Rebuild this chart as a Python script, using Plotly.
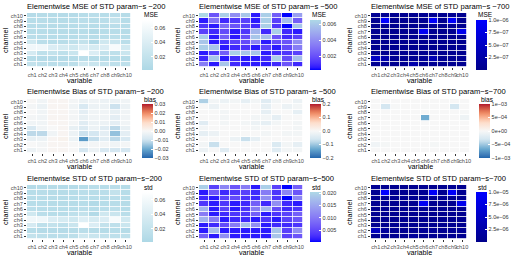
import numpy as np
import plotly.graph_objects as go

W, H = 516, 258
variables = [f"ch{i}" for i in range(1, 11)]
channels_bottom_up = [f"ch{i}" for i in range(1, 11)]
channels_top_down = channels_bottom_up[::-1]   # rows of the matrices below are listed top (ch10) -> bottom (ch1)

# ---------------- data (rows: ch10 ... ch1, columns: ch1 ... ch10) ----------------
mse_200 = [
    [0.008, 0.009, 0.009, 0.008, 0.008, 0.010, 0.012, 0.010, 0.012, 0.009],
    [0.010, 0.011, 0.009, 0.009, 0.010, 0.012, 0.011, 0.012, 0.020, 0.010],
    [0.010, 0.010, 0.009, 0.009, 0.010, 0.012, 0.010, 0.011, 0.012, 0.010],
    [0.010, 0.010, 0.009, 0.009, 0.009, 0.010, 0.006, 0.010, 0.011, 0.009],
    [0.012, 0.011, 0.010, 0.010, 0.010, 0.013, 0.010, 0.012, 0.014, 0.010],
    [0.030, 0.012, 0.010, 0.011, 0.016, 0.020, 0.006, 0.030, 0.025, 0.012],
    [0.058, 0.058, 0.040, 0.036, 0.030, 0.042, 0.036, 0.040, 0.064, 0.032],
    [0.035, 0.016, 0.020, 0.016, 0.025, 0.071, 0.040, 0.020, 0.016, 0.026],
    [0.010, 0.008, 0.008, 0.008, 0.009, 0.012, 0.009, 0.009, 0.010, 0.009],
    [0.020, 0.016, 0.012, 0.012, 0.014, 0.030, 0.025, 0.020, 0.016, 0.016],
]
mse_500 = [  # x 1e-3
    [6.5, 2.1, 6.2, 4.0, 5.9, 0.56, 6.2, 2.4, 0.25, 4.6],
    [0.56, 3.1, 0.88, 1.2, 1.5, 0.56, 6.2, 1.5, 5.6, 2.4],
    [1.2, 0.56, 2.8, 2.1, 1.5, 0.88, 6.2, 1.2, 0.25, 5.9],
    [1.5, 0.88, 1.8, 0.56, 1.2, 5.3, 0.88, 6.2, 0.88, 0.56],
    [6.2, 0.56, 2.4, 0.56, 1.8, 5.9, 5.6, 2.1, 0.88, 1.5],
    [5.9, 0.56, 0.88, 1.5, 1.8, 3.7, 0.56, 1.8, 2.1, 4.0],
    [6.2, 5.9, 0.56, 0.88, 1.2, 0.56, 1.5, 0.56, 1.8, 3.4],
    [0.56, 1.2, 2.4, 6.2, 5.9, 5.9, 0.56, 0.88, 1.2, 1.5],
    [0.88, 5.9, 0.56, 0.88, 0.56, 0.56, 0.88, 6.2, 1.8, 5.6],
    [3.4, 0.56, 5.9, 0.88, 0.56, 0.56, 0.56, 0.88, 2.1, 0.88],
]
mse_700 = [  # x 1e-7
    [0.8, 0.6, 0.5, 0.6, 0.5, 0.7, 0.6, 0.5, 0.8, 0.6],
    [0.6, 10.0, 0.7, 0.6, 0.5, 0.8, 9.5, 0.6, 9.5, 0.7],
    [0.5, 0.9, 0.6, 0.5, 0.6, 0.5, 0.8, 0.6, 0.7, 0.5],
    [0.6, 0.7, 0.5, 0.6, 0.6, 9.0, 0.7, 0.5, 0.6, 8.5],
    [0.5, 0.6, 0.5, 0.5, 0.7, 0.6, 0.5, 0.6, 0.5, 0.6],
    [0.6, 0.5, 0.6, 0.5, 0.6, 0.7, 0.6, 0.5, 0.6, 0.5],
    [0.5, 0.6, 0.5, 0.6, 0.5, 0.6, 0.5, 0.6, 0.5, 0.7],
    [0.6, 0.5, 0.6, 0.5, 0.6, 0.5, 0.6, 0.5, 0.6, 0.5],
    [5.0, 3.0, 0.8, 0.6, 0.7, 1.0, 3.5, 0.7, 0.8, 0.9],
    [0.7, 0.8, 0.6, 0.6, 3.0, 0.7, 0.8, 0.6, 0.7, 0.6],
]
bias_200 = [
    [0.0005, -0.002, 0.001, 0.001, -0.001, -0.003, -0.002, -0.003, -0.003, -0.002],
    [-0.001, -0.003, 0.001, 0.001, -0.002, -0.008, -0.003, -0.003, -0.010, -0.003],
    [0.000, -0.002, 0.001, 0.001, -0.001, -0.005, -0.002, -0.002, -0.004, -0.002],
    [-0.001, -0.002, 0.001, 0.001, -0.001, -0.004, -0.002, -0.002, -0.005, -0.002],
    [-0.002, -0.002, 0.001, 0.001, -0.001, -0.006, -0.003, -0.003, -0.005, -0.002],
    [-0.008, -0.002, 0.000, 0.001, -0.004, -0.007, -0.003, -0.006, -0.012, -0.004],
    [-0.012, -0.012, -0.002, 0.001, -0.003, -0.010, -0.009, -0.005, -0.016, -0.005],
    [-0.004, -0.003, 0.001, 0.002, -0.003, -0.022, -0.011, -0.006, -0.012, -0.008],
    [0.000, -0.001, 0.001, 0.001, 0.000, -0.002, -0.001, -0.001, -0.002, -0.001],
    [-0.003, -0.001, 0.001, 0.001, 0.000, -0.009, -0.003, -0.008, -0.009, -0.009],
]
bias_500 = [
    [-0.09, -0.01, -0.02, -0.01, -0.03, -0.01, -0.04, -0.01, 0.00, -0.02],
    [0.00, -0.02, 0.00, 0.00, 0.00, 0.00, -0.03, 0.00, -0.02, -0.01],
    [0.00, 0.00, -0.01, 0.00, 0.00, 0.00, -0.03, 0.00, 0.00, -0.03],
    [0.00, 0.00, -0.01, 0.00, 0.00, -0.01, -0.01, -0.03, 0.00, 0.00],
    [-0.04, 0.00, -0.01, 0.00, -0.01, -0.02, -0.03, -0.01, 0.00, -0.01],
    [-0.01, 0.00, 0.00, 0.00, 0.00, -0.01, 0.00, 0.00, 0.00, -0.01],
    [-0.03, -0.02, 0.00, 0.00, 0.00, 0.00, -0.01, 0.00, -0.01, -0.01],
    [0.00, 0.00, 0.00, -0.02, -0.07, -0.03, 0.00, 0.00, 0.00, 0.00],
    [-0.01, -0.07, 0.00, 0.00, 0.00, 0.00, 0.00, -0.05, -0.01, -0.03],
    [-0.02, 0.00, -0.04, 0.00, 0.00, 0.00, 0.00, -0.04, -0.01, -0.01],
]
bias_700 = [  # x 1e-4
    [0.0, 0.0, 0.0, 0.0, 0.0, 0.0, 0.0, 0.0, 0.0, 0.0],
    [0.0, -3.0, -0.1, 0.0, 0.0, -0.1, 0.0, 0.0, -3.0, 0.0],
    [0.0, 0.0, 0.0, 0.0, 0.0, 0.0, 0.0, 0.0, 0.0, -0.1],
    [0.0, 0.0, 0.0, 0.0, 0.0, -6.5, 0.0, 0.0, 0.0, -0.8],
    [0.0, 0.0, 0.0, 0.0, 0.0, 0.0, 0.0, 0.0, 0.0, 0.0],
    [0.0, 0.0, 0.0, 0.0, 0.0, 0.0, 0.0, 0.0, 0.0, 0.0],
    [0.0, 0.0, 0.0, 0.0, 0.0, 0.0, 0.0, 0.0, 0.0, 0.0],
    [0.0, 0.0, 0.0, 0.0, 0.0, 0.0, 0.0, 0.0, 0.0, 0.0],
    [-0.6, -0.3, 0.0, 0.0, 0.0, 0.0, -0.3, 0.0, 0.0, 0.0],
    [0.0, 0.0, 0.0, 0.0, 0.0, 0.0, 0.0, 0.0, 0.0, 0.0],
]
std_200 = [
    [0.008, 0.009, 0.009, 0.008, 0.008, 0.010, 0.012, 0.010, 0.012, 0.009],
    [0.010, 0.011, 0.009, 0.009, 0.010, 0.012, 0.011, 0.012, 0.020, 0.010],
    [0.010, 0.010, 0.009, 0.009, 0.010, 0.012, 0.010, 0.011, 0.012, 0.010],
    [0.010, 0.010, 0.009, 0.009, 0.009, 0.010, 0.006, 0.010, 0.011, 0.009],
    [0.012, 0.011, 0.010, 0.010, 0.010, 0.013, 0.010, 0.012, 0.014, 0.010],
    [0.030, 0.012, 0.010, 0.011, 0.016, 0.020, 0.006, 0.030, 0.025, 0.012],
    [0.058, 0.058, 0.040, 0.036, 0.030, 0.042, 0.036, 0.040, 0.064, 0.032],
    [0.035, 0.016, 0.020, 0.016, 0.025, 0.071, 0.040, 0.020, 0.016, 0.026],
    [0.010, 0.008, 0.008, 0.008, 0.009, 0.012, 0.009, 0.009, 0.010, 0.009],
    [0.020, 0.016, 0.012, 0.012, 0.014, 0.030, 0.025, 0.020, 0.016, 0.016],
]
std_500 = [  # x 1e-3
    [19.5, 4.3, 11.4, 6.3, 10.4, 1.2, 19.5, 4.3, 0.2, 7.3],
    [1.2, 6.3, 2.2, 3.2, 4.3, 2.2, 10.4, 3.2, 11.4, 6.3],
    [2.2, 1.2, 4.3, 5.3, 3.2, 2.2, 12.4, 3.2, 0.2, 11.4],
    [3.2, 1.2, 3.2, 1.2, 2.2, 7.3, 2.2, 12.4, 2.2, 1.2],
    [16.4, 1.2, 4.3, 1.2, 3.2, 10.4, 16.4, 5.3, 2.2, 3.2],
    [10.4, 1.2, 2.2, 3.2, 3.2, 7.3, 1.2, 3.2, 4.3, 7.3],
    [16.4, 10.4, 1.2, 2.2, 2.2, 1.2, 3.2, 1.2, 4.3, 6.3],
    [1.2, 2.2, 5.3, 10.4, 17.5, 12.4, 1.2, 2.2, 2.2, 3.2],
    [1.2, 17.5, 1.2, 1.2, 1.2, 1.2, 1.2, 18.5, 4.3, 12.4],
    [7.3, 1.2, 12.4, 1.2, 1.2, 1.2, 1.2, 18.5, 4.3, 6.3],
]
std_700 = [  # x 1e-6
    [0.8, 0.6, 0.5, 0.6, 0.5, 0.7, 0.6, 0.5, 0.8, 0.6],
    [0.6, 10.0, 0.7, 0.6, 0.5, 0.8, 9.5, 0.6, 9.5, 0.7],
    [0.5, 0.9, 0.6, 0.5, 0.6, 0.5, 0.8, 0.6, 0.7, 0.5],
    [0.6, 0.7, 0.5, 0.6, 0.6, 9.0, 0.7, 0.5, 0.6, 8.5],
    [0.5, 0.6, 0.5, 0.5, 0.7, 0.6, 0.5, 0.6, 0.5, 0.6],
    [0.6, 0.5, 0.6, 0.5, 0.6, 0.7, 0.6, 0.5, 0.6, 0.5],
    [0.5, 0.6, 0.5, 0.6, 0.5, 0.6, 0.5, 0.6, 0.5, 0.7],
    [0.6, 0.5, 0.6, 0.5, 0.6, 0.5, 0.6, 0.5, 0.6, 0.5],
    [4.5, 1.5, 0.8, 0.6, 0.7, 1.0, 1.2, 0.7, 0.8, 0.9],
    [0.7, 0.8, 0.6, 0.6, 1.5, 0.7, 0.8, 0.6, 0.7, 0.6],
]

titles = [
    "Elementwise MSE of STD param\u2212s \u2212200", "Elementwise MSE of STD param\u2212s \u2212500",
    "Elementwise MSE of STD param\u2212s \u2212700",
    "Elementwise Bias of STD param\u2212s \u2212200", "Elementwise Bias of STD param\u2212s \u2212500",
    "Elementwise Bias of STD param\u2212s\u2212700",
    "Elementwise STD of STD param\u2212s\u2212200", "Elementwise STD of STD param\u2212s\u2212500",
    "Elementwise STD of STD param\u2212s\u2212700",
]
legend_titles = ["MSE", "MSE", "MSE", "bias", "bias", "bias", "std", "std", "std"]

# ---------------- colour helpers (Lab interpolation like ggplot) ----------------
def hex2rgb(h):
    h = h.lstrip("#")
    return np.array([int(h[i:i + 2], 16) / 255 for i in (0, 2, 4)])

def rgb2lab(c):
    c = np.where(c > 0.04045, ((c + 0.055) / 1.055) ** 2.4, c / 12.92)
    M_ = np.array([[0.4124, 0.3576, 0.1805], [0.2126, 0.7152, 0.0722], [0.0193, 0.1192, 0.9505]])
    xyz = M_ @ c / np.array([0.95047, 1.0, 1.08883])
    f = np.where(xyz > 0.008856, np.cbrt(xyz), 7.787 * xyz + 16 / 116)
    return np.array([116 * f[1] - 16, 500 * (f[0] - f[1]), 200 * (f[1] - f[2])])

def lab2hex(lab):
    fy = (lab[0] + 16) / 116
    fx = fy + lab[1] / 500
    fz = fy - lab[2] / 200
    f = np.array([fx, fy, fz])
    xyz = np.where(f ** 3 > 0.008856, f ** 3, (f - 16 / 116) / 7.787) * np.array([0.95047, 1.0, 1.08883])
    Mi = np.array([[3.2406, -1.5372, -0.4986], [-0.9689, 1.8758, 0.0415], [0.0557, -0.2040, 1.0570]])
    c = Mi @ xyz
    c = np.where(c > 0.0031308, 1.055 * np.clip(c, 0, None) ** (1 / 2.4) - 0.055, 12.92 * c)
    c = np.clip(c, 0, 1)
    return "#%02x%02x%02x" % tuple(int(round(v * 255)) for v in c)

def lab_scale(colors, n=21):
    labs = [rgb2lab(hex2rgb(c)) for c in colors]
    k = len(labs) - 1
    out = []
    for i in range(n):
        t = i / (n - 1)
        seg = min(int(t * k), k - 1)
        u = t * k - seg
        out.append([t, lab2hex(labs[seg] * (1 - u) + labs[seg + 1] * u)])
    return out

cs_200 = lab_scale(["#ADD8E6", "#FFFFFF"])
cs_500 = lab_scale(["#0000FF", "#ADD8E6"])
cs_700 = lab_scale(["#00008B", "#0000FF"])
cs_bias = lab_scale(["#2166AC", "#67A9CF", "#D1E5F0", "#F7F7F7", "#FDDBC7", "#EF8A62", "#B2182B"])

M = "\u2212"
panels = [
    dict(z=mse_200, scale=1, cs=cs_200, lim=(0.002, 0.071), tv=[0.02, 0.04, 0.06], tt=["0.02", "0.04", "0.06"]),
    dict(z=mse_500, scale=1e-3, cs=cs_500, lim=(0.00025, 0.0065), tv=[0.002, 0.004, 0.006], tt=["0.002", "0.004", "0.006"]),
    dict(z=mse_700, scale=1e-7, cs=cs_700, lim=(0.0, 1.0e-6), tv=[2.5e-7, 5e-7, 7.5e-7, 1e-6],
         tt=[f"2.5e{M}07", f"5.0e{M}07", f"7.5e{M}07", f"1.0e{M}06"]),
    dict(z=bias_200, scale=1, cs=cs_bias, lim=(-0.03, 0.03), tv=[-0.03, -0.02, -0.01, 0, 0.01, 0.02, 0.03],
         tt=[f"{M}0.03", f"{M}0.02", f"{M}0.01", "0.00", "0.01", "0.02", "0.03"]),
    dict(z=bias_500, scale=1, cs=cs_bias, lim=(-0.2, 0.2), tv=[-0.2, -0.1, 0, 0.1, 0.2],
         tt=[f"{M}0.2", f"{M}0.1", "0.0", "0.1", "0.2"]),
    dict(z=bias_700, scale=1e-4, cs=cs_bias, lim=(-1e-3, 1e-3), tv=[-1e-3, -5e-4, 0, 5e-4, 1e-3],
         tt=[f"{M}1e{M}03", f"{M}5e{M}04", "0e+00", f"5e{M}04", f"1e{M}03"]),
    dict(z=std_200, scale=1, cs=cs_200, lim=(0.002, 0.071), tv=[0.02, 0.04, 0.06], tt=["0.02", "0.04", "0.06"]),
    dict(z=std_500, scale=1e-3, cs=cs_500, lim=(0.0002, 0.0205), tv=[0.005, 0.01, 0.015, 0.02],
         tt=["0.005", "0.010", "0.015", "0.020"]),
    dict(z=std_700, scale=1e-6, cs=cs_700, lim=(0.0, 1.0e-5), tv=[2.5e-6, 5e-6, 7.5e-6, 1e-5],
         tt=[f"2.5e{M}06", f"5.0e{M}06", f"7.5e{M}06", f"1.0e{M}05"]),
]

# ---------------- layout geometry (pixels) ----------------
heat_x = {0: (27, 131), 1: (199, 303), 2: (371, 467)}
bar_x = {0: 142, 1: 310, 2: 476}
FONT = "Liberation Sans"

fig = go.Figure()
layout = dict(
    width=W, height=H, margin=dict(l=0, r=0, t=0, b=0, autoexpand=False),
    paper_bgcolor="white", plot_bgcolor="white",
    font=dict(family=FONT, size=7, color="#000000"),
    annotations=[], showlegend=False,
)

for i, p in enumerate(panels):
    r, c = divmod(i, 3)
    n = i + 1
    x0, x1 = heat_x[c]
    if i == 5:
        x1 = 470
    y0, y1 = 13 + 86 * r, 67 + 86 * r
    xa = "x" if n == 1 else f"x{n}"
    ya = "y" if n == 1 else f"y{n}"
    ca = "coloraxis" if n == 1 else f"coloraxis{n}"
    z = (np.array(p["z"]) * p["scale"]).tolist()
    fig.add_trace(go.Heatmap(z=z, x=variables, y=channels_top_down, xaxis=xa, yaxis=ya,
                             coloraxis=ca, xgap=0.8, ygap=0.8,
                             hovertemplate="%{x} %{y}: %{z}<extra></extra>"))
    axkw = dict(showgrid=False, zeroline=False, showline=False, ticks="outside", ticklen=2,
                tickwidth=0.6, tickcolor="#333333", tickfont=dict(size=5.6, color="#4D4D4D", family=FONT),
                type="category", fixedrange=True, tickangle=0, automargin=False)
    layout[f"xaxis{'' if n == 1 else n}"] = dict(domain=[x0 / W, x1 / W], anchor=ya,
                                                 categoryorder="array", categoryarray=variables,
                                                 tickmode="array", tickvals=variables, ticktext=variables,
                                                 range=[-0.5, 9.5], **axkw)
    layout[f"yaxis{'' if n == 1 else n}"] = dict(domain=[1 - y1 / H, 1 - y0 / H], anchor=xa,
                                                 categoryorder="array", categoryarray=channels_bottom_up,
                                                 tickmode="array", tickvals=channels_bottom_up,
                                                 ticktext=channels_bottom_up,
                                                 range=[-0.5, 9.5], **axkw)
    if r == 1:
        bt, bb = 18 + 86 * r, 72 + 86 * r
    else:
        bt, bb = 20 + 86 * r, 70 + 86 * r
    bx = bar_x[c] + (3 if i == 5 else 0)
    layout[ca] = dict(
        colorscale=p["cs"], cmin=p["lim"][0], cmax=p["lim"][1],
        colorbar=dict(x=bx / W, xanchor="left", y=1 - bt / H, yanchor="top",
                      len=bb - bt, lenmode="pixels", thickness=11, thicknessmode="pixels",
                      xpad=0, ypad=0, outlinewidth=0, tickvals=p["tv"], ticktext=p["tt"],
                      ticks="inside", ticklen=2, tickcolor="white", tickwidth=0.6,
                      tickfont=dict(size=5.5, color="#333333", family=FONT)),
    )
    ann = layout["annotations"]
    ann.append(dict(text=titles[i], x=x0 / W - 0.004, y=1 - (6 + 86 * r) / H, xref="paper", yref="paper",
                    xanchor="left", yanchor="middle", showarrow=False, font=dict(size=7.6, color="#000000")))
    ann.append(dict(text=legend_titles[i], x=bx / W, y=1 - (bt - 5) / H, xref="paper", yref="paper",
                    xanchor="left", yanchor="middle", showarrow=False, font=dict(size=6.5, color="#000000")))
    ann.append(dict(text="channel", x=5 / W + c * 172 / W, y=1 - (y0 + y1) / 2 / H, xref="paper", yref="paper",
                    xanchor="center", yanchor="middle", textangle=-90, showarrow=False,
                    font=dict(size=7.2, color="#000000")))
    ann.append(dict(text="variable", x=(x0 + x1) / 2 / W, y=1 - (80.5 + 86 * r) / H, xref="paper", yref="paper",
                    xanchor="center", yanchor="middle", showarrow=False, font=dict(size=7.2, color="#000000")))

fig.update_layout(**layout)
fig.write_html("out.html", config={"displayModeBar": False},
               post_script="document.body.style.margin='0';document.body.style.padding='0';")
